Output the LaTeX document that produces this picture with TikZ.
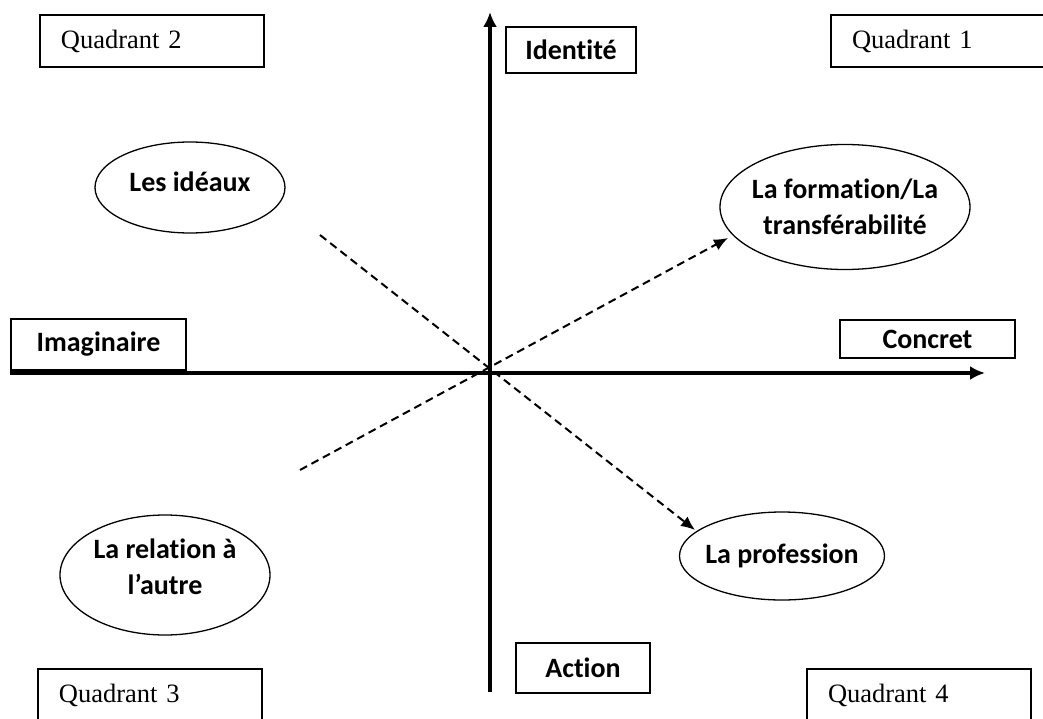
\documentclass[tikz,border=0pt]{standalone}
\usepackage{fontspec}
\setmainfont{Liberation Serif}
\newfontfamily\calibri[Ligatures=NoCommon]{Carlito}
\usetikzlibrary{shapes,arrows.meta,positioning}
\tikzstyle{every picture}=[x=1pt, y=1pt, >={Latex[length=15pt,width=14pt]}]
\tikzstyle{quad}=[draw, line width=2pt, anchor=west, text width=182pt, inner xsep=21pt,%
	minimum height=52pt, align=left, font=\fontsize{26.5}{30}\selectfont]
\tikzstyle{gras}=[font=\calibri\bfseries\fontsize{28}{36}\selectfont, align=center]
\tikzstyle{cadre}=[draw, line width=1.6pt, inner sep=0pt, gras]
\tikzstyle{bulle}=[draw, ellipse, line width=1.3pt, inner sep=0pt]
\tikzstyle{axe}=[line width=3.5pt]
\tikzstyle{tiret}=[line width=2pt, dash pattern=on 8pt off 5pt, >={Latex[length=14pt,width=12pt]}]

\begin{document}
\begin{tikzpicture}
	\useasboundingbox (-490,-345) rectangle (553,373);
	% quadrants
	\node[quad] (Q2) at (-451,332) {Quadrant 2};
	\node[quad] (Q1) at (340,331.5) {Quadrant 1};
	\node[quad] (Q3) at (-453,-322) {Quadrant 3};
	\node[quad] (Q4) at (316,-322) {Quadrant 4};
	% axes
	\coordinate (O) at (0,0);
	\coordinate (bas) at (0,-319);
	\coordinate (haut) at (0,361);
	\coordinate (gauche) at (-480,0);
	\coordinate (droite) at (495,0);
	\draw (bas) edge[axe,->] (haut) (gauche) edge[axe,->] (droite);
	\node[cadre, minimum width=130pt, minimum height=46pt] (I) at (81,323) {Identité};
	\node[cadre, minimum width=175pt, minimum height=51pt] (M) at (-391.5,28.5) {Imaginaire};
	\node[cadre, minimum width=175pt, minimum height=38pt] (C) at (437.5,34) {Concret};
	\node[cadre, minimum width=134pt, minimum height=50pt] (A) at (93,-295) {Action};
	% ellipses
	\node[bulle, minimum width=190pt, minimum height=91pt,%
		label={[gras, yshift=6pt]center:Les idéaux}] (ideaux) at (-300,185.5) {};
	\node[bulle, minimum width=250pt, minimum height=125pt,%
		label={[gras]center:La formation/La\\transférabilité}] (formation) at (355,166) {};
	\node[bulle, minimum width=210pt, minimum height=120pt,%
		label={[gras, yshift=8pt]center:La relation à\\l’autre}] (relation) at (-325,-202) {};
	\node[bulle, minimum width=205pt, minimum height=88pt,%
		label={[gras]center:La profession}] (profession) at (292,-183) {};
	% liens
	\coordinate (d1) at (-170,138);
	\coordinate (d2) at (205,-157);
	\coordinate (d3) at (-190,-97);
	\coordinate (d4) at (238,135);
	\draw (d1) edge[tiret,->] (d2) (d3) edge[tiret,->] (d4);
\end{tikzpicture}
\end{document}
